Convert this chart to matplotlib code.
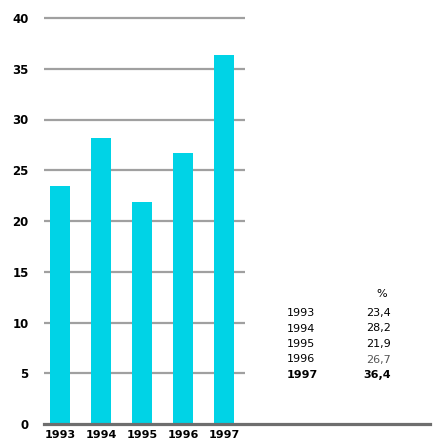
import matplotlib
matplotlib.use("Agg")
import matplotlib.pyplot as plt

years = ["1993", "1994", "1995", "1996", "1997"]
values = [23.4, 28.2, 21.9, 26.7, 36.4]
value_labels = ["23,4", "28,2", "21,9", "26,7", "36,4"]
yticks = [0, 5, 10, 15, 20, 25, 30, 35, 40]

plt.rcParams['font.family'] = ['DejaVu Sans']

W, H = 434, 447
fig = plt.figure(figsize=(W / 100, H / 100), dpi=100)
ax = fig.add_axes([44 / W, 1 - 424 / H, (430 - 44) / W, (424 - 18) / H])

xpos = list(range(len(years)))
ax.set_xlim(-0.39, 9.02)
ax.set_ylim(0, 40)

for t in yticks[1:]:
    ax.hlines(t, -0.39, 4.51, color="#a0a0a0", lw=1.6, zorder=1, clip_on=False)

ax.bar(xpos, values, width=0.48, color="#00d3e6", zorder=2)
ax.axhline(0, color="#6e6e6e", lw=2.3, zorder=3, clip_on=False)

for s in ax.spines.values():
    s.set_visible(False)
ax.set_yticks(yticks)
ax.set_yticklabels([str(t) for t in yticks], fontsize=8.5, fontweight="bold")
ax.tick_params(axis="y", length=0, pad=11)
ax.set_xticks(xpos)
ax.set_xticklabels(years, fontsize=8, fontweight="bold")
ax.tick_params(axis="x", length=0, pad=4)

# table
fs = 8
fig.text(381.5 / W, 1 - 294 / H, "%", fontsize=fs, ha="center", va="center")
rows_y = [313, 328.5, 344, 359.5, 375]
for i, (yr, vl) in enumerate(zip(years, value_labels)):
    bold = i == 4
    col = "#555555" if i == 3 else "black"
    fig.text(287 / W, 1 - rows_y[i] / H, yr, fontsize=fs, ha="left", va="center",
             fontweight="bold" if bold else "normal", color="black")
    fig.text(391 / W, 1 - rows_y[i] / H, vl, fontsize=fs, ha="right", va="center",
             fontweight="bold" if bold else "normal", color=col)

fig.savefig("out.png", dpi=100)
